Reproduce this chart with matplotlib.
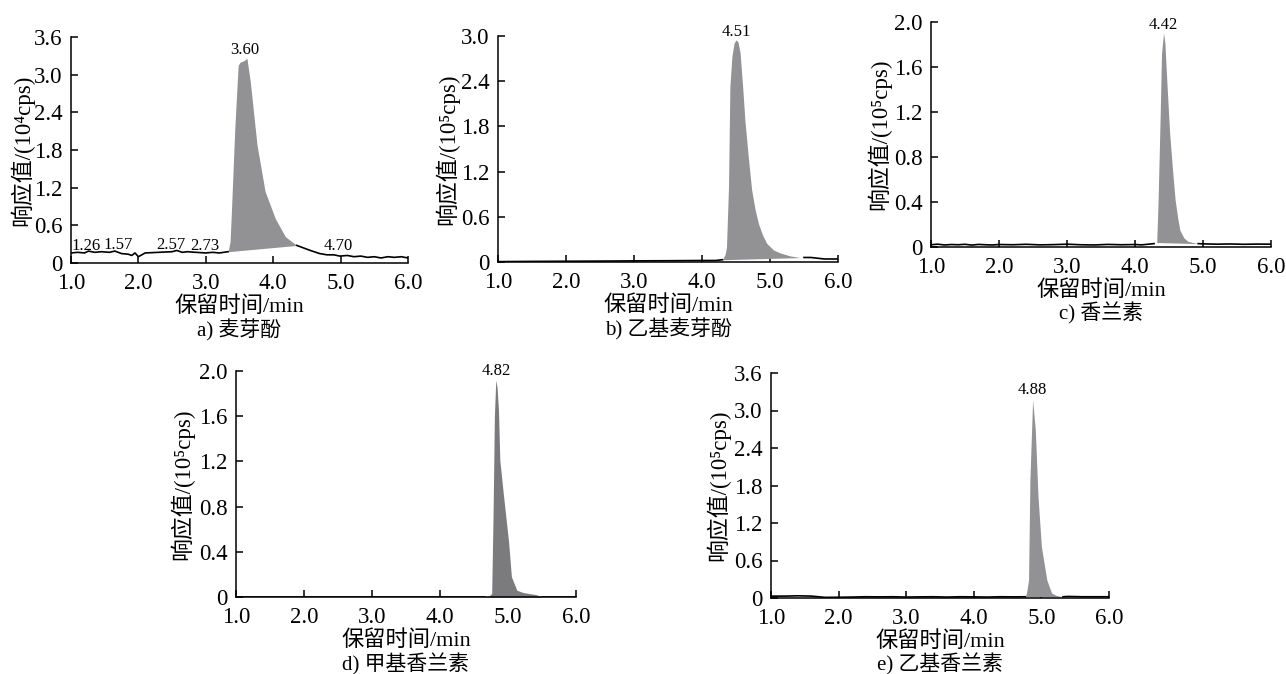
import numpy as np
import matplotlib
matplotlib.use("Agg")
import matplotlib.pyplot as plt
from matplotlib.ticker import FixedLocator, FormatStrFormatter

plt.rcParams['font.family'] = ['Liberation Serif', 'Noto Sans CJK SC']
plt.rcParams['axes.unicode_minus'] = False

# ---- data ----
# a) 麦芽酚, 10^4 cps
t_a = [1.0, 1.1, 1.2, 1.26, 1.35, 1.45, 1.57, 1.65, 1.75, 1.85, 1.9, 1.95, 2.0, 2.1, 2.3,
       2.5, 2.57, 2.65, 2.73, 2.85, 3.0, 3.1, 3.2, 3.33, 3.36, 3.38, 3.43, 3.48, 3.51, 3.56,
       3.61, 3.66, 3.76, 3.88, 4.03, 4.18, 4.35, 4.45, 4.55, 4.69, 4.8, 4.9, 4.99, 5.1, 5.2,
       5.3, 5.4, 5.5, 5.6, 5.7, 5.8, 5.9, 6.0]
y_a = [0.16, 0.17, 0.16, 0.19, 0.17, 0.18, 0.17, 0.19, 0.15, 0.14, 0.12, 0.16, 0.10, 0.16, 0.17,
       0.18, 0.20, 0.17, 0.18, 0.17, 0.16, 0.17, 0.16, 0.18, 0.34, 0.82, 2.14, 3.15, 3.20, 3.22,
       3.26, 2.89, 1.88, 1.14, 0.71, 0.42, 0.28, 0.24, 0.20, 0.15, 0.13, 0.13, 0.11, 0.12, 0.10,
       0.11, 0.09, 0.10, 0.08, 0.10, 0.09, 0.10, 0.08]
peak_a = (3.33, 4.35)
labels_a = ['1.26', '1.57', '2.57', '2.73', '3.60', '4.70']

# b) 乙基麦芽酚, 10^5 cps
t_b = [1.0, 1.5, 2.0, 2.5, 3.0, 3.5, 4.0, 4.2, 4.30, 4.34, 4.36, 4.39, 4.41, 4.44, 4.47,
       4.50, 4.53, 4.56, 4.60, 4.63, 4.68, 4.73, 4.78, 4.83, 4.89, 4.95, 5.05, 5.15, 5.3,
       5.44, 5.5, 5.6, 5.7, 5.8, 6.0]
y_b = [0.005, 0.008, 0.01, 0.012, 0.015, 0.017, 0.02, 0.02, 0.03, 0.10, 0.20, 1.00, 2.33, 2.73, 2.90,
       2.95, 2.92, 2.78, 2.30, 1.89, 1.40, 0.96, 0.70, 0.51, 0.36, 0.25, 0.16, 0.12, 0.08,
       0.06, 0.06, 0.06, 0.05, 0.04, 0.04]
peak_b = (4.30, 5.5)

# c) 香兰素, 10^5 cps
t_c = [1.0, 1.1, 1.2, 1.3, 1.4, 1.5, 1.6, 1.7, 1.8, 1.9, 2.0, 2.2, 2.4, 2.6, 2.8, 3.0, 3.2,
       3.4, 3.6, 3.8, 4.0, 4.1, 4.2, 4.28, 4.32, 4.34, 4.37, 4.39, 4.42, 4.44, 4.47, 4.51,
       4.55, 4.59, 4.63, 4.66, 4.72, 4.78, 4.85, 4.93, 5.0, 5.2, 5.4, 5.6, 5.8, 6.0]
y_c = [0.02, 0.025, 0.018, 0.022, 0.02, 0.024, 0.017, 0.023, 0.02, 0.018, 0.022, 0.02, 0.024,
       0.019, 0.021, 0.025, 0.02, 0.018, 0.023, 0.02, 0.022, 0.019, 0.025, 0.03, 0.05, 0.42,
       1.16, 1.72, 1.905, 1.81, 1.45, 1.01, 0.70, 0.42, 0.25, 0.15, 0.08, 0.05, 0.04, 0.03,
       0.028, 0.025, 0.027, 0.024, 0.026, 0.025]
peak_c = (4.30, 4.93)

# d) 甲基香兰素, 10^5 cps
t_d = [1.0, 2.0, 3.0, 4.0, 4.5, 4.66, 4.72, 4.76, 4.78, 4.80, 4.82, 4.84, 4.86, 4.88, 4.93,
       5.01, 5.05, 5.13, 5.22, 5.42, 5.5, 6.0]
y_d = [0.0, 0.0, 0.0, 0.0, 0.0, 0.0, 0.01, 0.03, 0.71, 1.60, 1.92, 1.85, 1.65, 1.21, 0.92,
       0.48, 0.18, 0.06, 0.04, 0.02, 0.0, 0.0]
peak_d = (4.66, 5.5)

# e) 乙基香兰素, 10^5 cps
t_e = [1.0, 1.2, 1.4, 1.6, 1.7, 1.8, 2.0, 2.2, 2.4, 2.6, 2.8, 3.0, 3.2, 3.4, 3.6, 3.8, 4.0,
       4.2, 4.4, 4.6, 4.76, 4.78, 4.81, 4.83, 4.87, 4.91, 4.95, 5.0, 5.08, 5.15, 5.22, 5.32,
       5.4, 5.6, 5.8, 6.0]
y_e = [0.03, 0.03, 0.035, 0.03, 0.02, 0.01, 0.012, 0.015, 0.02, 0.018, 0.02, 0.015, 0.018,
       0.02, 0.015, 0.02, 0.018, 0.015, 0.02, 0.018, 0.02, 0.08, 0.29, 1.89, 3.17, 2.69, 1.62,
       0.82, 0.29, 0.08, 0.04, 0.02, 0.025, 0.02, 0.02, 0.02]
peak_e = (4.76, 5.32)

x_ticks = [1.0, 2.0, 3.0, 4.0, 5.0, 6.0]
xlabel = '保留时间/min'

W, H = 1286, 674
fig = plt.figure(figsize=(W / 100, H / 100), dpi=100)


def make_axes(x0, y_top, x1, y_bot):
    return fig.add_axes([x0 / W, 1 - y_bot / H, (x1 - x0) / W, (y_bot - y_top) / H])


def draw_panel(ax, t, y, peak, ymax, ystep, ylabel, caption, fill_color, ycoord):
    t = np.asarray(t)
    y = np.asarray(y)
    inside = (t >= peak[0]) & (t <= peak[1])
    # drop line under the peak, from start point to end point
    base = np.interp(t[inside], [peak[0], peak[1]],
                     [np.interp(peak[0], t, y), np.interp(peak[1], t, y)])
    ax.fill_between(t[inside], base, y[inside], color=fill_color, lw=0, zorder=2)
    y_out = np.ma.masked_where((t > peak[0]) & (t < peak[1]), y)
    ax.plot(t, y_out, color='black', lw=1.2, zorder=3)

    ax.set_xlim(1.0, 6.0)
    ax.set_ylim(0, ymax)
    ax.xaxis.set_major_locator(FixedLocator(x_ticks))
    ax.xaxis.set_major_formatter(FormatStrFormatter('%.1f'))
    yt = np.round(np.arange(0, ymax + 1e-9, ystep), 1)
    ax.set_yticks(yt)
    ax.set_yticklabels(['0'] + ['%.1f' % v for v in yt[1:]])
    for s in ['top', 'right']:
        ax.spines[s].set_visible(False)
    for s in ['left', 'bottom']:
        ax.spines[s].set_linewidth(1.1)
    ax.tick_params(direction='in', length=5, width=1.1, labelsize=16.5)
    ax.tick_params(axis='x', pad=7)
    ax.tick_params(axis='y', pad=6)
    ax.set_xlabel(xlabel, fontsize=16, va='center')
    ax.xaxis.set_label_coords(0.5, -0.193)
    ax.set_ylabel(ylabel, fontsize=16.5, va='center')
    ax.yaxis.set_label_coords(ycoord, 0.5)
    ax.text(0.5, -0.297, caption, transform=ax.transAxes, ha='center', va='center', fontsize=15)
    ax.patch.set_alpha(0)


fill_main = '#929295'
fill_dark = '#7b7b7e'

# a
ax = make_axes(71, 37, 408, 263)
draw_panel(ax, t_a, y_a, peak_a, 3.6, 0.6, '响应值/(10⁴cps)', 'a) 麦芽酚', fill_main, -0.146)
label_x_a = [1.22, 1.70, 2.48, 2.98, 3.58, 4.97]
label_y_a = [0.27, 0.28, 0.28, 0.27, 3.40, 0.27]
for s, lx, ly in zip(labels_a, label_x_a, label_y_a):
    ax.text(lx, ly, s, ha='center', va='center', fontsize=12)

# b
ax = make_axes(498, 36, 838, 262)
draw_panel(ax, t_b, y_b, peak_b, 3.0, 0.6, '响应值/(10⁵cps)', 'b) 乙基麦芽酚', fill_main, -0.15)
ax.annotate('4.51', xy=(4.50, max(y_b)), xytext=(0, 0), textcoords='offset points',
            ha='center', va='bottom', fontsize=12)

# c
ax = make_axes(931, 22, 1271, 247)
draw_panel(ax, t_c, y_c, peak_c, 2.0, 0.4, '响应值/(10⁵cps)', 'c) 香兰素', fill_main, -0.154)
ax.annotate('4.42', xy=(4.42, max(y_c)), xytext=(0, 0), textcoords='offset points',
            ha='center', va='bottom', fontsize=12)

# d
ax = make_axes(236, 371, 576, 597)
draw_panel(ax, t_d, y_d, peak_d, 2.0, 0.4, '响应值/(10⁵cps)', 'd) 甲基香兰素', fill_dark, -0.158)
ax.annotate('4.82', xy=(4.83, max(y_d)), xytext=(0, 1), textcoords='offset points',
            ha='center', va='bottom', fontsize=12)

# e
ax = make_axes(771, 373, 1109, 598)
draw_panel(ax, t_e, y_e, peak_e, 3.6, 0.6, '响应值/(10⁵cps)', 'e) 乙基香兰素', fill_main, -0.158)
ax.annotate('4.88', xy=(4.87, max(y_e)), xytext=(0, 1), textcoords='offset points',
            ha='center', va='bottom', fontsize=12)

plt.savefig('out.png', dpi=100)
plt.close()
